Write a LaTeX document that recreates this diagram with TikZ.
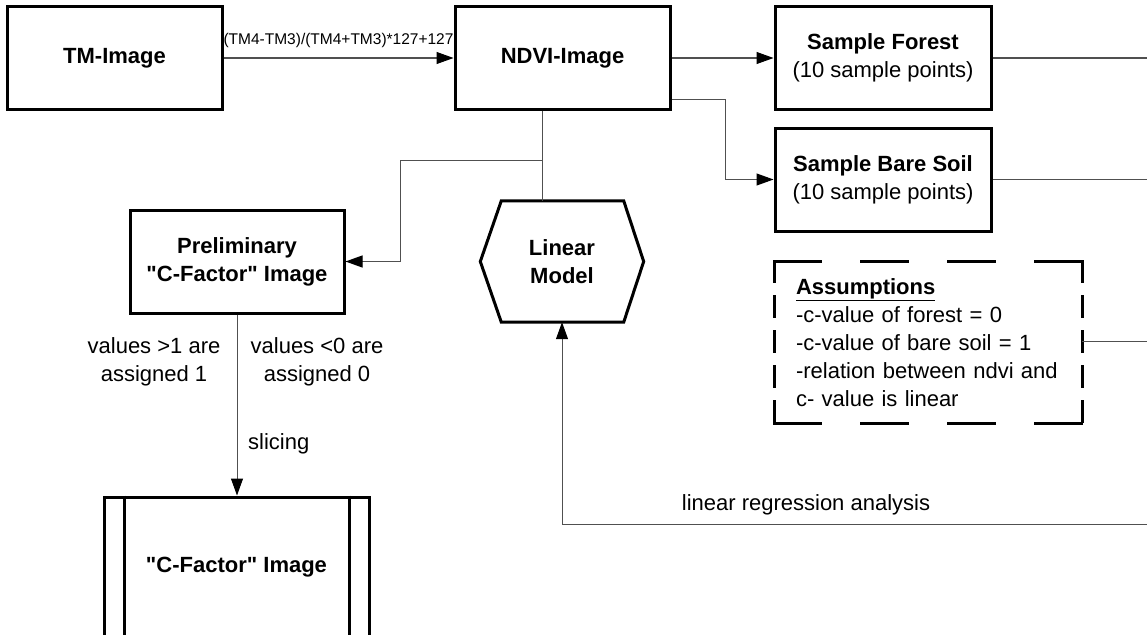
\documentclass[tikz,border=0pt]{standalone}
\usepackage{fontspec}
\setmainfont{Liberation Sans}[Ligatures=TeXOff]
\usetikzlibrary{arrows.meta,calc}
\definecolor{linegray}{RGB}{80,80,80}
\begin{document}
\begin{tikzpicture}[x=1pt,y=-1pt,
  every node/.style={inner sep=0pt, text=black},
  mainfont/.style={font=\fontsize{22}{28}\selectfont},
  box/.style={draw=black, line width=3pt, align=center, font=\fontsize{22}{28}\selectfont\bfseries},
  conn/.style={line width=1pt, draw=linegray},
  arr/.style={conn, -{Triangle[length=17pt,width=12pt,color=black]}},
  lbl/.style={align=center, mainfont},
  dashH/.style={line width=3pt, line cap=rect, dash pattern=on 46pt off 41pt},
  dashV/.style={line width=3pt, line cap=rect, dash pattern=on 20pt off 15pt}
]
\useasboundingbox (0,0) rectangle (1147,634);
\clip (0,0) rectangle (1147,634);

% boxes
\node[box, minimum width=215pt, minimum height=102pt] (tm) at (114.5,58) {TM-Image};
\node[box, minimum width=215pt, minimum height=102pt] (ndvi) at (562.5,58) {NDVI-Image};
\node[box, minimum width=216pt, minimum height=102pt] (forest) at (883,58) {Sample Forest\\\mdseries (10 sample points)};
\node[box, minimum width=216pt, minimum height=103pt] (bare) at (883,179.5) {Sample Bare Soil\\\mdseries (10 sample points)};
\node[box, minimum width=214pt, minimum height=103pt] (prel) at (237,261.5) {Preliminary\\"C-Factor" Image};
\node[box, minimum width=265pt, minimum height=140pt] (cf) at (236.5,567) {"C-Factor" Image};
\draw[line width=3pt] ([xshift=22pt]cf.north west) -- ([xshift=22pt]cf.south west);
\draw[line width=3pt] ([xshift=-21pt]cf.north east) -- ([xshift=-21pt]cf.south east);

% hexagon
\node[align=center, font=\fontsize{22}{28}\selectfont\bfseries, minimum width=163pt, minimum height=121pt] (lm) at (562,261.5) {Linear\\Model};
\draw[line width=3pt] (lm.west) -- ([xshift=21pt]lm.north west) -- ([xshift=-20pt]lm.north east) -- (lm.east)
  -- ([xshift=-20pt]lm.south east) -- ([xshift=21pt]lm.south west) -- cycle;

% assumptions
\node[align=left, mainfont, text width=265pt, inner xsep=21pt, minimum height=161pt] (assum) at (928.5,342.5)
  {\textbf{\underline{Assumptions}}\\-c-value of forest = 0\\-c-value of bare soil = 1\\-relation between ndvi and\\c- value is linear};
\draw[dashH] (assum.north west) -- (assum.north east);
\draw[dashH] (assum.south west) -- (assum.south east);
\draw[dashV] (assum.north west) -- (assum.south west);
\draw[dashV] (assum.north east) -- (assum.south east);

% free ends at the right edge
\coordinate (rf) at (1150,58);
\coordinate (rb) at (1150,179.5);
\coordinate (ra) at (1150,341);
\coordinate (rr) at (1150,524);

% connectors
\draw[arr] (tm.east) -- node[midway, above, yshift=10pt, font=\fontsize{15.5}{18}\selectfont] {(TM4-TM3)/(TM4+TM3)*127+127} (ndvi.west);
\draw[arr] (ndvi.east) -- (forest.west);
\draw[arr] ([yshift=-41pt]ndvi.east) -- ++(54,0) |- (bare.west);
\draw[conn] (forest.east) -- (rf);
\draw[conn] (bare.east) -- (rb);
\draw[conn] (assum.east |- ra) -- (ra);
\draw[conn] ([xshift=-20.5pt]ndvi.south) -- ([xshift=-20pt]lm.north);
\draw[arr] ([xshift=-20.5pt,yshift=-50pt]ndvi.south) -- ++(-142,0) |- (prel.east);
\draw[arr] (prel.south) -- (prel.south |- cf.north);
\draw[arr] (rr) -| (lm.south);

% labels
\node[lbl] (l1) at (154,362) {values >1 are\\assigned 1};
\node[lbl] (l2) at (317,362) {values <0 are\\assigned 0};
\node[lbl, anchor=west] (l3) at (248,444) {slicing};
\node[lbl] (l4) at (806,505) {linear regression analysis};
\end{tikzpicture}
\end{document}
